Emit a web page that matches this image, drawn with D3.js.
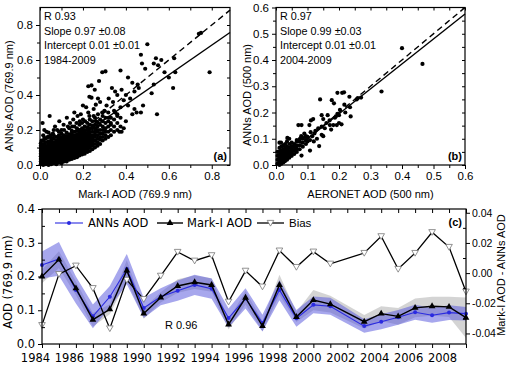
<!DOCTYPE html>
<html><head><meta charset="utf-8">
<script src="https://cdn.jsdelivr.net/npm/d3@7"></script>
<style>body{margin:0;background:#fff}svg{display:block}</style>
</head><body><svg id="c" width="513" height="367"></svg>
<script>
// ---------- DATA ----------
// Panel (a): dense core given as columns [x, [y...]], plus sparse points
const scatterA_dense = [
 [0.004,[0.005,0.02,0.035,0.05,0.065,0.08,0.095,0.11,0.125]],
 [0.015,[0.0,0.015,0.03,0.045,0.06,0.075,0.09,0.105,0.12,0.14,0.17]],
 [0.027,[0.005,0.02,0.035,0.05,0.065,0.08,0.095,0.11,0.13,0.15]],
 [0.04,[0.0,0.015,0.03,0.045,0.06,0.075,0.09,0.105,0.12,0.135,0.16,0.185]],
 [0.052,[0.005,0.02,0.035,0.05,0.065,0.08,0.095,0.11,0.125,0.14,0.155]],
 [0.064,[0.01,0.025,0.04,0.055,0.07,0.085,0.1,0.115,0.13,0.15,0.17,0.2]],
 [0.076,[0.005,0.02,0.035,0.05,0.065,0.08,0.095,0.11,0.125,0.14,0.16]],
 [0.088,[0.015,0.03,0.045,0.06,0.075,0.09,0.105,0.12,0.135,0.15,0.17,0.19]],
 [0.1,[0.01,0.025,0.04,0.055,0.07,0.085,0.1,0.115,0.13,0.145,0.16,0.18]],
 [0.112,[0.02,0.035,0.05,0.065,0.08,0.095,0.11,0.125,0.14,0.155,0.17,0.2]],
 [0.124,[0.02,0.035,0.05,0.065,0.08,0.095,0.105,0.12,0.135,0.15,0.165,0.185]],
 [0.136,[0.03,0.045,0.06,0.075,0.09,0.1,0.115,0.13,0.145,0.16,0.175,0.21]],
 [0.148,[0.035,0.05,0.065,0.08,0.095,0.105,0.12,0.135,0.15,0.165,0.18,0.195]],
 [0.16,[0.04,0.055,0.07,0.085,0.1,0.11,0.125,0.14,0.155,0.17,0.19,0.22]],
 [0.172,[0.045,0.06,0.075,0.09,0.105,0.115,0.13,0.145,0.16,0.175,0.195,0.21]],
 [0.184,[0.055,0.07,0.085,0.1,0.11,0.125,0.14,0.155,0.17,0.185,0.2,0.23]],
 [0.196,[0.06,0.075,0.09,0.105,0.115,0.13,0.145,0.16,0.175,0.19,0.21,0.24]],
 [0.208,[0.065,0.08,0.095,0.11,0.125,0.14,0.155,0.17,0.185,0.2,0.22]],
 [0.22,[0.075,0.09,0.105,0.12,0.135,0.15,0.165,0.18,0.2,0.215,0.24]],
 [0.232,[0.08,0.1,0.115,0.13,0.145,0.16,0.175,0.19,0.21,0.23,0.26]],
 [0.244,[0.09,0.11,0.125,0.14,0.155,0.17,0.19,0.21,0.225,0.25]],
 [0.256,[0.1,0.12,0.14,0.16,0.175,0.19,0.21,0.23,0.27]],
 [0.268,[0.11,0.13,0.15,0.17,0.19,0.2,0.22,0.245]],
 [0.28,[0.12,0.145,0.16,0.18,0.2,0.23,0.26]],
 [0.292,[0.14,0.16,0.18,0.2,0.22,0.25,0.28]],
 [0.305,[0.15,0.17,0.19,0.21,0.24,0.27]],
 [0.318,[0.16,0.19,0.22,0.25,0.3]],
 [0.33,[0.17,0.2,0.23,0.27]],
 [0.345,[0.19,0.22,0.26,0.31]],
 [0.36,[0.2,0.24,0.29]],
 [0.375,[0.22,0.27,0.33]]
];
const scatterA_sparse = [
 [0.012,0.24],[0.045,0.28],[0.03,0.19],[0.02,0.2],[0.07,0.22],[0.08,0.2],[0.09,0.25],[0.11,0.23],[0.125,0.27],[0.14,0.24],
 [0.15,0.22],[0.16,0.3],[0.175,0.28],[0.19,0.29],[0.2,0.26],[0.2,0.34],[0.215,0.33],[0.225,0.3],[0.23,0.39],[0.24,0.385],
 [0.25,0.32],[0.26,0.345],[0.255,0.43],[0.225,0.45],[0.24,0.455],[0.27,0.38],[0.275,0.48],[0.29,0.53],[0.305,0.535],[0.28,0.36],
 [0.3,0.31],[0.32,0.38],[0.31,0.34],[0.34,0.36],[0.335,0.44],[0.36,0.4],[0.35,0.42],[0.375,0.54],[0.38,0.43],[0.39,0.37],
 [0.4,0.4],[0.41,0.5],[0.42,0.38],[0.43,0.47],[0.44,0.42],[0.455,0.46],[0.46,0.44],[0.47,0.63],[0.475,0.58],[0.49,0.55],
 [0.5,0.69],[0.52,0.41],[0.53,0.46],[0.53,0.58],[0.54,0.61],[0.545,0.29],[0.55,0.57],[0.565,0.6],[0.58,0.53],[0.6,0.5],
 [0.62,0.44],[0.625,0.61],[0.63,0.53],[0.74,0.75],[0.75,0.755],[0.79,0.53],[0.47,0.3],[0.45,0.3],[0.43,0.29],[0.38,0.19],
 [0.37,0.19],[0.4,0.25],[0.39,0.21],[0.36,0.28],[0.41,0.34],[0.44,0.32],[0.48,0.34],[0.33,0.24],[0.35,0.3],[0.3,0.2],
 [0.32,0.27],[0.29,0.3],[0.27,0.29],[0.26,0.25],[0.25,0.28],[0.23,0.28],[0.21,0.25],[0.185,0.25],[0.17,0.24],[0.155,0.26],
 [0.13,0.22],[0.1,0.2],[0.06,0.18],[0.05,0.17],[0.02,0.155],[0.008,0.14],[0.035,0.16]
];
// Panel (b)
const scatterB_dense = [
 [0.005,[0.005,0.02,0.035,0.05]],
 [0.011,[0.0,0.012,0.025,0.038,0.05,0.065,0.085]],
 [0.017,[0.005,0.018,0.03,0.043,0.055,0.07]],
 [0.023,[0.01,0.022,0.035,0.048,0.06,0.075]],
 [0.029,[0.015,0.028,0.04,0.052,0.065,0.08]],
 [0.035,[0.02,0.032,0.045,0.058,0.07,0.09]],
 [0.042,[0.028,0.04,0.052,0.065,0.08,0.1]],
 [0.05,[0.035,0.048,0.06,0.072,0.085]],
 [0.058,[0.042,0.055,0.068,0.08]],
 [0.066,[0.05,0.062,0.075,0.09]],
 [0.075,[0.06,0.075,0.09]],
 [0.085,[0.07,0.085,0.1]],
 [0.095,[0.08,0.095,0.11]]
];
const scatterB_sparse = [
 [0.40,0.445],[0.465,0.385],[0.335,0.28],[0.14,0.25],[0.237,0.185],[0.195,0.275],[0.21,0.275],[0.216,0.277],[0.177,0.247],[0.184,0.235],
 [0.233,0.26],[0.256,0.25],[0.27,0.257],[0.217,0.23],[0.235,0.22],[0.203,0.21],[0.195,0.195],[0.19,0.185],[0.171,0.152],[0.182,0.152],
 [0.193,0.152],[0.208,0.155],[0.187,0.18],[0.071,0.152],[0.081,0.152],[0.106,0.152],[0.111,0.17],[0.118,0.175],[0.145,0.19],[0.164,0.19],
 [0.145,0.115],[0.137,0.072],[0.108,0.055],[0.081,0.036],[0.122,0.12],[0.108,0.095],[0.1,0.107],[0.092,0.107],[0.076,0.1],[0.066,0.095],
 [0.036,0.103],[0.016,0.085],[0.134,0.14],[0.145,0.146],[0.125,0.13],[0.115,0.11],[0.13,0.1],[0.155,0.14],[0.16,0.16],[0.17,0.17],
 [0.175,0.135],[0.12,0.09],[0.11,0.125],[0.1,0.09],[0.09,0.12],[0.08,0.11],[0.06,0.075],[0.15,0.175],[0.2,0.16],[0.2,0.19],
 [0.22,0.2],[0.26,0.255],[0.15,0.11]
];
const fitA = {slope:0.85, intercept:0.005};
const fitB = {slope:0.95, intercept:0.005};
const statsA = ["R 0.93","Slope 0.97 \u00b10.08","Intercept 0.01 \u00b10.01","1984-2009"];
const statsB = ["R 0.97","Slope 0.99 \u00b10.03","Intercept 0.01 \u00b10.01","2004-2009"];

// Panel (c): time series (no 2002 data)
const years   = [1984,1985,1986,1987,1988,1989,1990,1991,1992,1993,1994,1995,1996,1997,1998,1999,2000,2001,2003,2004,2005,2006,2007,2008,2009];
const markAOD = [0.200,0.250,0.165,0.072,0.103,0.218,0.090,0.138,0.172,0.183,0.175,0.058,0.137,0.053,0.175,0.080,0.130,0.118,0.066,0.090,0.082,0.107,0.112,0.110,0.078];
const markErr = [0.020,0.025,0.020,0.020,0.015,0.030,0.015,0.015,0.020,0.020,0.020,0.015,0.020,0.015,0.030,0.015,0.030,0.025,0.020,0.022,0.025,0.028,0.028,0.030,0.060];
const annsAOD = [0.234,0.252,0.160,0.082,0.140,0.222,0.107,0.140,0.158,0.175,0.164,0.077,0.135,0.062,0.160,0.076,0.116,0.112,0.053,0.066,0.079,0.094,0.085,0.093,0.090];
const annsErr = [0.040,0.050,0.040,0.035,0.032,0.045,0.030,0.025,0.030,0.030,0.030,0.028,0.030,0.025,0.030,0.025,0.025,0.025,0.020,0.022,0.022,0.022,0.022,0.022,0.020];
const biasVal = [-0.0345,-0.0007,0.0049,-0.010,-0.0367,-0.0045,-0.0173,-0.0018,0.014,0.0082,0.0118,-0.019,0.0015,-0.009,0.0149,0.004,0.0142,0.0062,0.0133,0.0244,0.0027,0.0133,0.0271,0.0173,-0.0123];

// ---------- DRAW ----------
const svg = d3.select("#c");
const ARIAL = "'Liberation Sans', Arial, sans-serif";
const DEJA = "'DejaVu Sans', Verdana, sans-serif";
const flat = cols => cols.flatMap(([x, ys]) => ys.map(y => [x, y]));

function styleAxis(g, font, size) {
  g.select(".domain").remove();
  g.selectAll("line").attr("stroke", "#000").attr("stroke-width", 1);
  g.selectAll("text").attr("font-family", font).attr("font-size", size).attr("fill", "#000");
}

function scatterPanel(c) {
  const x = d3.scaleLinear().domain(c.xd).range(c.xr);
  const y = d3.scaleLinear().domain(c.yd).range(c.yr);
  const g = svg.append("g");
  const pts = flat(c.dense).concat(c.sparse);
  g.append("g").selectAll("circle").data(pts).join("circle")
    .attr("cx", d => x(d[0])).attr("cy", d => y(d[1])).attr("r", 2.1).attr("fill", "#000");
  const xm = c.xd[1];
  g.append("line").attr("x1", x(0)).attr("y1", y(0)).attr("x2", x(xm)).attr("y2", y(Math.min(xm, c.yd[1])))
    .attr("stroke", "#000").attr("stroke-width", 1.4).attr("stroke-dasharray", "6,4");
  g.append("line").attr("x1", x(0)).attr("y1", y(c.fit.intercept)).attr("x2", x(xm)).attr("y2", y(c.fit.intercept + c.fit.slope * xm))
    .attr("stroke", "#000").attr("stroke-width", 1.4);
  const yb = c.yr[0], yt = c.yr[1], xl = c.xr[0], xr = c.xr[1];
  const bx = g.append("g").attr("transform", `translate(0,${yb})`)
    .call(d3.axisBottom(x).tickValues(c.xMajor).tickFormat(d3.format(".1f")).tickSize(4).tickPadding(3));
  styleAxis(bx, ARIAL, c.tickFs);
  const bxm = g.append("g").attr("transform", `translate(0,${yb})`)
    .call(d3.axisBottom(x).tickValues(c.xMinor).tickFormat("").tickSize(3));
  styleAxis(bxm, ARIAL, c.tickFs);
  const tx = g.append("g").attr("transform", `translate(0,${yt})`)
    .call(d3.axisTop(x).tickValues(c.xMajor.concat(c.xMinor)).tickFormat("").tickSize(-3));
  styleAxis(tx, ARIAL, c.tickFs);
  const ly = g.append("g").attr("transform", `translate(${xl},0)`)
    .call(d3.axisLeft(y).tickValues(c.yMajor).tickFormat(d3.format(".1f")).tickSize(4).tickPadding(3));
  styleAxis(ly, ARIAL, c.tickFs);
  const lym = g.append("g").attr("transform", `translate(${xl},0)`)
    .call(d3.axisLeft(y).tickValues(c.yMinor).tickFormat("").tickSize(3));
  styleAxis(lym, ARIAL, c.tickFs);
  const ry = g.append("g").attr("transform", `translate(${xr},0)`)
    .call(d3.axisRight(y).tickValues(c.yMajor.concat(c.yMinor)).tickFormat("").tickSize(-3));
  styleAxis(ry, ARIAL, c.tickFs);
  g.append("rect").attr("x", xl).attr("y", yt).attr("width", xr - xl).attr("height", yb - yt)
    .attr("fill", "none").attr("stroke", "#000").attr("stroke-width", 1.2);
  c.stats.forEach((s, i) => g.append("text").attr("x", xl + 4).attr("y", 20 + i * 14.5)
    .attr("font-family", ARIAL).attr("font-size", 10.8).text(s));
  g.append("text").attr("x", xr - 3).attr("y", yb - 5).attr("text-anchor", "end")
    .attr("font-family", ARIAL).attr("font-size", 11).attr("font-weight", "bold").text(c.tag);
  g.append("text").attr("x", (xl + xr) / 2).attr("y", 197.5).attr("text-anchor", "middle")
    .attr("font-family", ARIAL).attr("font-size", 11).text(c.xTitle);
  g.append("text").attr("transform", `translate(${c.yTitleX},${c.yTitleY}) rotate(-90)`).attr("text-anchor", "middle")
    .attr("font-family", ARIAL).attr("font-size", 11).text(c.yTitle);
}

scatterPanel({
  xd: [0, 0.885], xr: [40, 230], yd: [0, 0.9], yr: [165, 7.5],
  dense: scatterA_dense, sparse: scatterA_sparse, fit: fitA, stats: statsA, tag: "(a)",
  xMajor: [0, 0.2, 0.4, 0.6, 0.8], xMinor: [0.1, 0.3, 0.5, 0.7],
  yMajor: [0, 0.2, 0.4, 0.6, 0.8], yMinor: [0.1, 0.3, 0.5, 0.7],
  tickFs: 11.5, xTitle: "Mark-I AOD (769.9 nm)", yTitle: "ANNs AOD (769.9 nm)", yTitleX: 13, yTitleY: 96
});
scatterPanel({
  xd: [0, 0.6], xr: [276, 465], yd: [0, 0.6], yr: [165, 7.5],
  dense: scatterB_dense, sparse: scatterB_sparse, fit: fitB, stats: statsB, tag: "(b)",
  xMajor: [0, 0.1, 0.2, 0.3, 0.4, 0.5, 0.6], xMinor: [0.05, 0.15, 0.25, 0.35, 0.45, 0.55],
  yMajor: [0, 0.1, 0.2, 0.3, 0.4, 0.5, 0.6], yMinor: [0.05, 0.15, 0.25, 0.35, 0.45, 0.55],
  tickFs: 11.5, xTitle: "AERONET AOD (500 nm)", yTitle: "ANNs AOD (500 nm)", yTitleX: 251, yTitleY: 95
});

// ----- Panel (c) -----
(function () {
  const xl = 42, xr = 466, yt = 209, yb = 344;
  const x = d3.scaleLinear().domain([1984, 2009]).range([xl, xr]);
  const y = d3.scaleLinear().domain([0, 0.4]).range([yb, yt]);
  const yB = d3.scaleLinear().domain([-0.047, 0.0425]).range([yb, yt]);
  const g = svg.append("g");
  const idx = d3.range(years.length);
  const area = (vals, err) => d3.area().x(i => x(years[i])).y0(i => y(vals[i] - err[i])).y1(i => y(vals[i] + err[i]));
  g.append("path").datum(idx).attr("d", area(markAOD, markErr)).attr("fill", "#cfcfcf").attr("opacity", 0.9);
  g.append("path").datum(idx).attr("d", area(annsAOD, annsErr)).attr("fill", "#5050dc").attr("opacity", 0.5);
  g.append("path").datum(idx).attr("d", d3.line().x(i => x(years[i])).y(i => yB(biasVal[i])))
    .attr("fill", "none").attr("stroke", "#000").attr("stroke-width", 1.3);
  g.append("g").selectAll("path").data(idx).join("path")
    .attr("d", d3.symbol(d3.symbolTriangle).size(19))
    .attr("transform", i => `translate(${x(years[i])},${yB(biasVal[i]) - 0.7}) rotate(180)`)
    .attr("fill", "#fff").attr("stroke", "#777").attr("stroke-width", 0.8);
  g.append("path").datum(idx).attr("d", d3.line().x(i => x(years[i])).y(i => y(annsAOD[i])))
    .attr("fill", "none").attr("stroke", "#2a2ae0").attr("stroke-width", 1.1);
  g.append("g").selectAll("circle").data(idx).join("circle")
    .attr("cx", i => x(years[i])).attr("cy", i => y(annsAOD[i])).attr("r", 2).attr("fill", "#2a2ae0");
  g.append("path").datum(idx).attr("d", d3.line().x(i => x(years[i])).y(i => y(markAOD[i])))
    .attr("fill", "none").attr("stroke", "#000").attr("stroke-width", 1.4);
  g.append("g").selectAll("path").data(idx).join("path")
    .attr("d", d3.symbol(d3.symbolTriangle).size(20))
    .attr("transform", i => `translate(${x(years[i])},${y(markAOD[i])})`).attr("fill", "#000");

  const bx = g.append("g").attr("transform", `translate(0,${yb})`)
    .call(d3.axisBottom(x).tickValues(d3.range(1984, 2010)).tickFormat(d => (d % 2 === 0 ? d : "")).tickSize(4).tickPadding(6));
  styleAxis(bx, DEJA, 11.5);
  bx.selectAll("text").attr("dx", -7);
  const tx = g.append("g").attr("transform", `translate(0,${yt})`)
    .call(d3.axisTop(x).tickValues(d3.range(1984, 2010)).tickFormat("").tickSize(-4));
  styleAxis(tx, DEJA, 11.5);
  const ly = g.append("g").attr("transform", `translate(${xl},0)`)
    .call(d3.axisLeft(y).tickValues([0, 0.1, 0.2, 0.3, 0.4]).tickFormat(d3.format(".1f")).tickSize(4).tickPadding(3));
  styleAxis(ly, DEJA, 11.5);
  ly.selectAll("text").attr("dy", "0.3em");
  const lym = g.append("g").attr("transform", `translate(${xl},0)`)
    .call(d3.axisRight(y).tickValues([0.05, 0.15, 0.25, 0.35]).tickFormat("").tickSize(3));
  styleAxis(lym, DEJA, 11.5);
  const ry = g.append("g").attr("transform", `translate(${xr},0)`)
    .call(d3.axisRight(yB).tickValues([-0.04, -0.02, 0, 0.02, 0.04]).tickFormat(d3.format(".2f")).tickSize(4).tickPadding(2));
  styleAxis(ry, ARIAL, 10.5);
  ry.selectAll("text").text(d => d3.format(".2f")(d).replace("\u2212", "-"));
  const rym = g.append("g").attr("transform", `translate(${xr},0)`)
    .call(d3.axisLeft(yB).tickValues([-0.03, -0.01, 0.01, 0.03]).tickFormat("").tickSize(3));
  styleAxis(rym, ARIAL, 10.5);
  g.append("rect").attr("x", xl).attr("y", yt).attr("width", xr - xl).attr("height", yb - yt)
    .attr("fill", "none").attr("stroke", "#000").attr("stroke-width", 1.2);

  const ly0 = 223;
  g.append("line").attr("x1", 55).attr("x2", 83).attr("y1", ly0).attr("y2", ly0).attr("stroke", "#2a2ae0").attr("stroke-width", 1.1);
  g.append("circle").attr("cx", 69).attr("cy", ly0).attr("r", 2).attr("fill", "#2a2ae0");
  g.append("text").attr("x", 88).attr("y", ly0 + 4).attr("font-family", DEJA).attr("font-size", 11.5).text("ANNs AOD");
  g.append("line").attr("x1", 157).attr("x2", 183).attr("y1", ly0).attr("y2", ly0).attr("stroke", "#000").attr("stroke-width", 1.4);
  g.append("path").attr("d", d3.symbol(d3.symbolTriangle).size(20)).attr("transform", `translate(170,${ly0})`).attr("fill", "#000");
  g.append("text").attr("x", 187).attr("y", ly0 + 4).attr("font-family", DEJA).attr("font-size", 11.5).text("Mark-I AOD");
  g.append("line").attr("x1", 257).attr("x2", 284).attr("y1", ly0).attr("y2", ly0).attr("stroke", "#000").attr("stroke-width", 1.3);
  g.append("path").attr("d", d3.symbol(d3.symbolTriangle).size(19)).attr("transform", `translate(270.5,${ly0 - 0.7}) rotate(180)`)
    .attr("fill", "#fff").attr("stroke", "#777").attr("stroke-width", 0.8);
  g.append("text").attr("x", 289).attr("y", ly0 + 4).attr("font-family", ARIAL).attr("font-size", 11.5).text("Bias");

  g.append("text").attr("x", xr - 4).attr("y", 226).attr("text-anchor", "end")
    .attr("font-family", ARIAL).attr("font-size", 11).attr("font-weight", "bold").text("(c)");
  g.append("text").attr("x", 165).attr("y", 329).attr("font-family", ARIAL).attr("font-size", 11).text("R 0.96");
  g.append("text").attr("transform", `translate(12,282) rotate(-90)`).attr("text-anchor", "middle")
    .attr("font-family", DEJA).attr("font-size", 11.5).text("AOD (769.9 nm)");
  g.append("text").attr("transform", `translate(505,275) rotate(-90)`).attr("text-anchor", "middle")
    .attr("font-family", ARIAL).attr("font-size", 11).text("Mark-I AOD - ANNs AOD");
})();
</script>
</body></html>
